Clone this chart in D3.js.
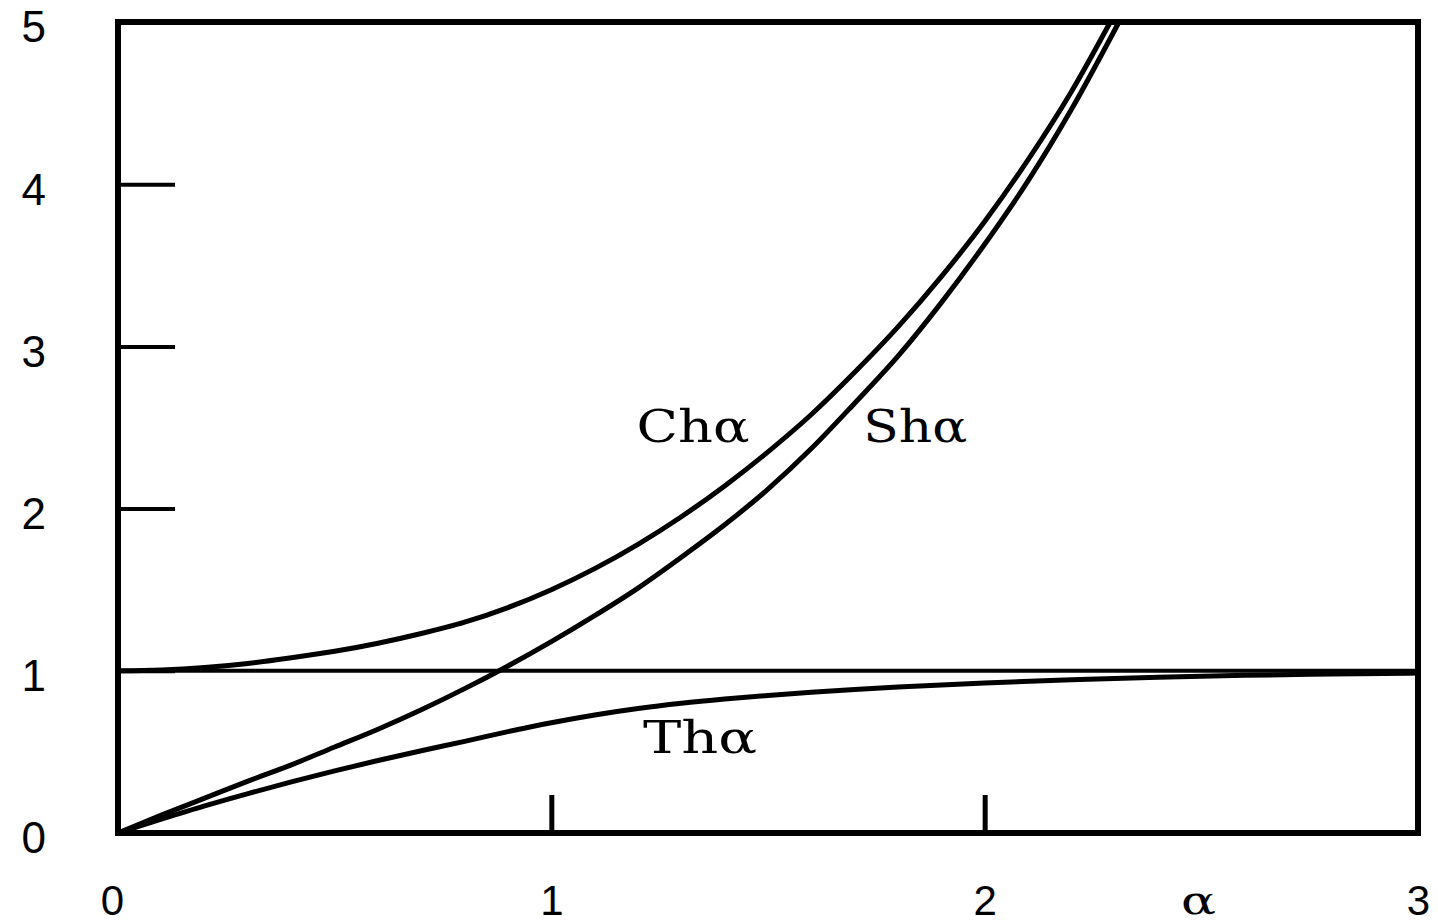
<!DOCTYPE html>
<html><head><meta charset="utf-8">
<script src="https://cdn.jsdelivr.net/npm/d3@7"></script>
<style>html,body{margin:0;padding:0;background:#fff;}</style>
</head><body>
<svg id="c" width="1438" height="924"></svg>
<script>
// values
const xTicks = [0, 1, 2, 3];
const yTicks = [0, 1, 2, 3, 4, 5];
const chX = [0,0.1,0.2,0.3,0.4,0.5,0.6,0.7,0.8,0.9,1.0,1.1,1.2,1.3,1.4,1.5,1.6,1.7,1.8,1.9,2.0,2.1,2.2,2.29];
const chY = [1.00,1.005,1.02,1.045,1.08,1.12,1.17,1.23,1.30,1.39,1.50,1.63,1.78,1.95,2.14,2.35,2.58,2.84,3.12,3.43,3.77,4.15,4.57,5.00];
const shX = [0,0.1,0.2,0.3,0.4,0.5,0.6,0.7,0.8,0.9,1.0,1.1,1.2,1.3,1.4,1.5,1.6,1.7,1.8,1.9,2.0,2.1,2.2,2.31];
const shY = [0,0.11,0.215,0.32,0.42,0.53,0.64,0.76,0.89,1.03,1.18,1.34,1.51,1.70,1.90,2.12,2.37,2.65,2.94,3.27,3.63,4.02,4.46,5.00];
const thX = [0,0.1,0.2,0.3,0.4,0.5,0.6,0.7,0.8,0.9,1.0,1.1,1.2,1.3,1.4,1.5,1.6,1.7,1.8,1.9,2.0,2.2,2.4,2.6,2.8,3.0];
const thY = [0,0.085,0.167,0.243,0.315,0.383,0.447,0.507,0.565,0.625,0.68,0.728,0.768,0.80,0.826,0.848,0.868,0.885,0.90,0.913,0.925,0.945,0.96,0.972,0.98,0.986];
const unitLine = 1;
const curveLabels = [
  {text: "Chα", x: 1.327, y: 2.41, w: 113},
  {text: "Shα", x: 1.84, y: 2.41, w: 104},
  {text: "Thα", x: 1.343, y: 0.493, w: 114}
];

const svg = d3.select("#c");
svg.append("rect").attr("width",1438).attr("height",924).attr("fill","#fff");
const x = d3.scaleLinear().domain([0,3]).range([118,1418]);
const y = d3.scaleLinear().domain([0,5]).range([833,22]);

// y = 1 line
svg.append("line").attr("x1",x(0)).attr("x2",x(3)).attr("y1",y(unitLine)).attr("y2",y(unitLine))
  .attr("stroke","#000").attr("stroke-width",4);

const line = d3.line().x(d=>x(d[0])).y(d=>y(d[1])).curve(d3.curveMonotoneX);
[[chX,chY],[shX,shY],[thX,thY]].forEach(([xs,ys])=>{
  svg.append("path").datum(xs.map((v,i)=>[v,ys[i]])).attr("d",line)
    .attr("fill","none").attr("stroke","#000").attr("stroke-width",5).attr("stroke-linejoin","round");
});

// frame
svg.append("rect").attr("x",x(0)).attr("y",y(5)).attr("width",x(3)-x(0)).attr("height",y(0)-y(5))
  .attr("fill","none").attr("stroke","#000").attr("stroke-width",6);

// left axis
const ya = svg.append("g").attr("transform",`translate(${x(0)},0)`)
  .call(d3.axisLeft(y).tickValues(yTicks).tickSizeInner(-57).tickSizeOuter(0).tickPadding(72).tickFormat(d3.format("d")));
ya.select(".domain").remove();
ya.selectAll(".tick line").attr("stroke","#000").attr("stroke-width",4);
ya.selectAll(".tick text").attr("font-family","'Liberation Sans', Arial, sans-serif").attr("font-size",44).attr("fill","#000").attr("dy","0.45em");

// bottom axis
const xa = svg.append("g").attr("transform",`translate(0,${y(0)})`)
  .call(d3.axisBottom(x).tickValues(xTicks).tickSizeInner(-38).tickSizeOuter(0).tickPadding(52).tickFormat(d3.format("d")));
xa.select(".domain").remove();
xa.selectAll(".tick line").attr("stroke","#000").attr("stroke-width",5);
xa.selectAll(".tick text").attr("font-family","'Liberation Sans', Arial, sans-serif").attr("font-size",42).attr("fill","#000");
xa.selectAll(".tick text").filter(d=>d===0).attr("dx",-6);

svg.selectAll(".clab").data(curveLabels).enter().append("text")
  .attr("x",d=>x(d.x)-d.w/2).attr("y",d=>y(d.y))
  .attr("textLength",d=>d.w).attr("lengthAdjust","spacingAndGlyphs")
  .attr("font-family","'DejaVu Serif', 'Liberation Serif', serif").attr("font-size",44).attr("fill","#000")
  .text(d=>d.text);

// x axis title
svg.append("text").attr("x",1181).attr("y",914).attr("textLength",35).attr("lengthAdjust","spacingAndGlyphs")
  .attr("font-family","'DejaVu Serif', 'Liberation Serif', serif").attr("font-size",40).attr("fill","#000")
  .text("α");
</script>
</body></html>
